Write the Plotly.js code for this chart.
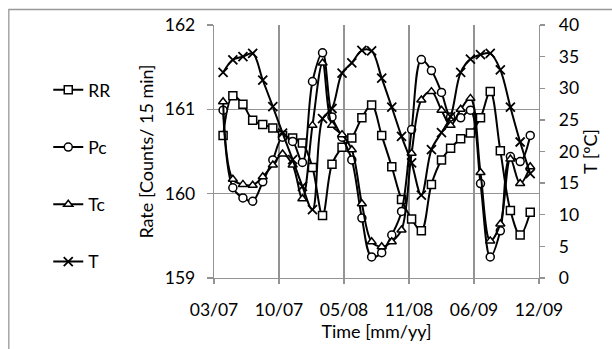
<!DOCTYPE html>
<html>
<head>
<meta charset="utf-8">
<script src="https://cdn.plot.ly/plotly-3.0.1.min.js"></script>
<style>html,body{margin:0;padding:0;background:#fff;}#chart{width:612px;height:349px;}</style>
</head>
<body>
<div id="chart"></div>
<script>
// Monthly sample dates
const dates = [
  "2007-04-26","2007-05-26","2007-06-26","2007-07-26","2007-08-26","2007-09-26",
  "2007-10-26","2007-11-26","2007-12-26","2008-01-26","2008-02-26","2008-03-26",
  "2008-04-26","2008-05-26","2008-06-26","2008-07-26","2008-08-26","2008-09-26",
  "2008-10-26","2008-11-26","2008-12-26","2009-01-26","2009-02-26","2009-03-26",
  "2009-04-26","2009-05-26","2009-06-26","2009-07-26","2009-08-26","2009-09-26",
  "2009-10-26","2009-11-26"
];
// Rate series (left axis)
const RR = [160.69,161.16,161.06,160.87,160.82,160.78,160.69,160.66,160.60,160.31,159.74,160.35,
            160.55,160.66,160.90,161.05,160.69,160.32,159.93,159.70,159.56,160.11,160.40,160.54,
            160.65,160.72,160.90,161.21,160.51,159.80,159.51,159.78];
const Pc = [160.99,160.07,159.95,159.91,160.14,160.40,160.67,160.62,160.37,161.33,161.67,160.91,
            160.67,160.40,159.71,159.25,159.30,159.51,159.79,160.76,161.59,161.46,161.20,160.91,
            160.90,160.99,160.12,159.25,159.56,160.44,160.38,160.69];
const Tc = [161.09,160.17,160.11,160.10,160.20,160.34,160.47,160.34,159.94,160.81,161.55,160.81,
            160.70,160.52,159.88,159.43,159.37,159.43,159.57,160.48,161.11,161.21,160.99,160.81,
            161.00,161.13,160.25,159.44,159.64,160.41,160.12,160.32];
// Temperature (right axis)
const T = [32.5,34.5,35.0,35.5,31.3,27.1,22.9,18.7,14.5,10.8,25.2,26.8,
           32.4,34.0,36.0,35.9,31.6,27.0,22.4,18.2,13.1,20.3,23.0,25.5,
           32.5,34.6,35.3,35.5,32.9,27.0,21.5,16.5];
// Axis ticks
const xTickVals = ["2007-03-29","2007-10-15","2008-05-02","2008-11-18","2009-06-06","2009-12-23"];
const xTickText = ["03/07","10/07","05/08","11/08","06/09","12/09"];

const FONT = "Lato, 'Open Sans', sans-serif";
const FS = 17.5, TFS = 18;
const lineStyle = {color:"#000", width:2, shape:"spline", smoothing:1};
function mk(sym){ return {symbol:sym, size:8, color:"#fff", line:{color:"#000", width:1.5}}; }

const traces = [
  {x:dates, y:RR, name:"RR", mode:"lines+markers", line:lineStyle, marker:mk("square"), legendgroup:"a", yaxis:"y"},
  {x:dates, y:Pc, name:"Pc", mode:"lines+markers", line:lineStyle, marker:mk("circle"), legendgroup:"b", yaxis:"y"},
  {x:dates, y:Tc, name:"Tc", mode:"lines+markers", line:lineStyle, marker:mk("triangle-up"), legendgroup:"c", yaxis:"y"},
  {x:dates, y:T, name:"T", mode:"lines+markers", line:lineStyle,
   marker:{symbol:"x-thin", size:9, color:"#000", line:{color:"#000", width:1.8}}, legendgroup:"d", yaxis:"y2"}
];

const L=214, R=539.5, TOP=25, BOT=278.3, W=612, H=349;
const pw=R-L, ph=BOT-TOP;
const px2x = p => (p-L)/pw, py2y = p => (BOT-p)/ph;

const layout = {
  width:W, height:H,
  margin:{l:L, r:W-R, t:TOP, b:H-BOT, pad:0},
  paper_bgcolor:"#fff", plot_bgcolor:"#fff",
  font:{family:FONT, size:FS, color:"#000"},
  showlegend:true,
  legend:{x:px2x(48), xanchor:"left", y:py2y(72), yanchor:"top", tracegroupgap:31.5,
          font:{family:FONT, size:FS, color:"#000"}, bgcolor:"rgba(0,0,0,0)"},
  xaxis:{type:"date", range:["2007-03-29","2009-12-23"], tickmode:"array", tickvals:xTickVals, ticktext:xTickText,
         showgrid:true, gridcolor:"#939393", gridwidth:1.3, showline:true, linecolor:"#939393", linewidth:1.3,
         ticks:"outside", ticklen:5, tickcolor:"#939393", tickwidth:1.3, ticklabelstandoff:11,
         tickfont:{family:FONT, size:FS}, zeroline:false,
         title:{text:"Time [mm/yy]", font:{family:FONT, size:TFS}, standoff:6}},
  yaxis:{range:[159,162], dtick:1, tick0:159, showgrid:true, gridcolor:"#939393", gridwidth:1.3,
         showline:true, linecolor:"#939393", linewidth:1.3, ticks:"outside", ticklen:6, tickcolor:"#939393", tickwidth:1.3,
         ticklabelstandoff:8, tickfont:{family:FONT, size:FS}, zeroline:false,
         title:{text:"Rate [Counts/ 15 min]", font:{family:FONT, size:TFS}, standoff:6}},
  yaxis2:{range:[0,40], dtick:5, tick0:0, overlaying:"y", side:"right", showgrid:false, zeroline:false,
          showline:true, linecolor:"#939393", linewidth:1.3, ticks:"outside", ticklen:5, tickcolor:"#939393", tickwidth:1.3,
          ticklabelstandoff:10, tickfont:{family:FONT, size:FS},
          title:{text:"T [ºC]", font:{family:FONT, size:TFS}, standoff:4}},
  shapes:[
    {type:"line", xref:"paper", yref:"paper", x0:px2x(8), x1:px2x(620), y0:py2y(9.5), y1:py2y(9.5), line:{color:"#999", width:1.3}},
    {type:"line", xref:"paper", yref:"paper", x0:px2x(8.5), x1:px2x(8.5), y0:py2y(9.5), y1:py2y(360), line:{color:"#999", width:1.3}}
  ]
};
Plotly.newPlot("chart", traces, layout, {staticPlot:true, displayModeBar:false});
</script>
</body>
</html>
